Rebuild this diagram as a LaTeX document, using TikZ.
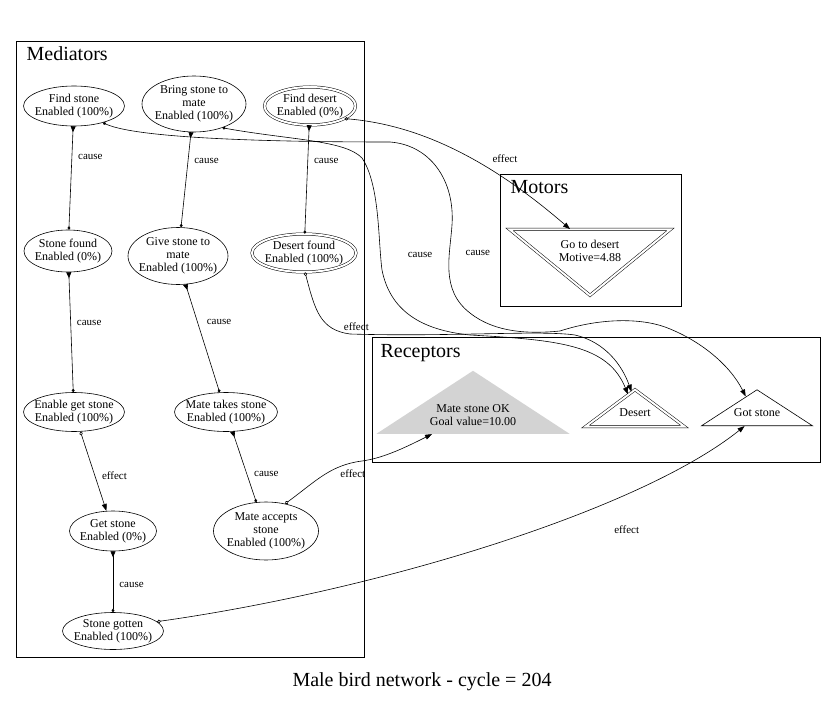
\documentclass[tikz,border=0pt]{standalone}
\usepackage{fontspec}
\setmainfont{Liberation Serif}
\usetikzlibrary{shapes.geometric,arrows.meta,calc}
\definecolor{goalgray}{RGB}{211,211,211}

\begin{document}
\begin{tikzpicture}[x=1pt,y=-1pt,line width=0.6pt,
      every node/.style={align=center,font=\fontsize{12}{13}\selectfont},
      med/.style={draw,ellipse,inner sep=-15pt,minimum width=100pt,minimum height=40pt},
      dbl/.style={double,double distance=2pt,line width=0.5pt},
      recep/.style={isosceles triangle,isosceles triangle stretches,
        shape border rotate=90,inner sep=0pt},
      grplabel/.style={anchor=base west,font=\fontsize{20}{24}\selectfont},
      lbl/.style={font=\fontsize{11}{13}\selectfont,inner sep=1pt},
      cause/.style={{Triangle[reversed,length=6pt,width=5pt]}-{Diamond[length=3.5pt,width=3pt]}},
      rcause/.style={{Diamond[length=3.5pt,width=3pt]}-{Triangle[length=7pt,width=5pt]}},
      effect/.style={{Diamond[open,length=4pt,width=3.5pt]}-{Triangle[length=7pt,width=5pt]}}]
  \useasboundingbox (0,0) rectangle (833,701);

  % groups
  \draw (16,41) rectangle (364,657);
  \draw (500,174) rectangle (681,306);
  \draw (372,337) rectangle (820,462);
  \node[grplabel] (medlabel) at (23,60) {Mediators};
  \node[grplabel] (motlabel) at (507,193) {Motors};
  \node[grplabel] (reclabel) at (377,357) {Receptors};

  % mediators
  \node[med,minimum width=101pt,minimum height=40pt] (findstone) at (74,106) {Find stone\\Enabled (100\%)};
  \node[med,minimum width=104pt,minimum height=56pt] (bringstone) at (194,104) {Bring stone to\\mate\\Enabled (100\%)};
  \node[med,dbl,minimum width=91pt,minimum height=38pt] (finddesert) at (310,106) {Find desert\\Enabled (0\%)};
  \node[med,minimum width=88pt,minimum height=42pt] (stonefound) at (68,251) {Stone found\\Enabled (0\%)};
  \node[med,minimum width=100pt,minimum height=57pt] (givestone) at (178,256) {Give stone to\\mate\\Enabled (100\%)};
  \node[med,dbl,minimum width=104pt,minimum height=38pt] (desertfound) at (304,253) {Desert found\\Enabled (100\%)};
  \node[med,minimum width=101pt,minimum height=39pt] (enablegetstone) at (74,412) {Enable get stone\\Enabled (100\%)};
  \node[med,minimum width=103pt,minimum height=39pt] (matetakes) at (226,412) {Mate takes stone\\Enabled (100\%)};
  \node[med,minimum width=87pt,minimum height=40pt] (getstone) at (113,531) {Get stone\\Enabled (0\%)};
  \node[med,minimum width=105pt,minimum height=58pt] (mateaccepts) at (266,531) {Mate accepts\\stone\\Enabled (100\%)};
  \node[med,minimum width=101pt,minimum height=37pt] (stonegotten) at (113,631) {Stone gotten\\Enabled (100\%)};

  % motors and receptors
  \node[recep,dbl,draw,shape border rotate=270,minimum width=161pt,minimum height=66pt,anchor=apex] (gotodesert) at (590,296) {};
  \node (gotodeserttext) at ($(gotodesert.apex)!0.67!(gotodesert.lower side)$) {Go to desert\\Motive=4.88};
  \node[recep,fill=goalgray,minimum width=193pt,minimum height=63pt,anchor=apex] (mateok) at (473,370) {};
  \node (mateoktext) at ($(mateok.apex)!0.7!(mateok.lower side)$) {Mate stone OK\\Goal value=10.00};
  \node[recep,dbl,draw,minimum width=99pt,minimum height=37pt,anchor=apex] (desert) at (635,389) {};
  \node (deserttext) at ($(desert.apex)!0.62!(desert.lower side)$) {Desert};
  \node[recep,draw,minimum width=111pt,minimum height=36pt,anchor=apex] (gotstone) at (757,389) {};
  \node (gotstonetext) at ($(gotstone.apex)!0.64!(gotstone.lower side)$) {Got stone};

  % cause links between mediators
  \draw[cause] (findstone) -- node[lbl,pos=0.3,right=5pt] {cause} (stonefound);
  \draw[cause] (bringstone) -- node[lbl,pos=0.3,right=5pt] {cause} (givestone);
  \draw[cause] (finddesert) -- node[lbl,pos=0.33,right=5pt] {cause} (desertfound);
  \draw[cause] (stonefound) -- node[lbl,pos=0.42,right=5pt] {cause} (enablegetstone);
  \draw[cause] (givestone.-75) -- node[lbl,pos=0.35,right=8pt] {cause} (matetakes.108);
  \draw[cause] (matetakes) -- node[lbl,pos=0.6,right=6pt] {cause} (mateaccepts);
  \draw[cause] (getstone) -- node[lbl,pos=0.55,right=5pt] {cause} (stonegotten);
  \draw[effect] (enablegetstone) -- node[lbl,pos=0.55,right=6pt] {effect} (getstone);

  % links to receptors and motors
  \draw[rcause] (findstone.-30) .. controls (140,140) and (300,142) .. (390,142)
    .. controls (430,145) and (455,180) .. (452,225)
    .. controls (450,255) and (440,290) .. node[lbl,pos=0.3,right=15pt] {cause} (470,313)
    .. controls (495,333) and (530,334) .. (560,331)
    .. controls (600,318) and (640,318) .. (665,327)
    .. controls (700,340) and (730,365) .. ($(gotstone.apex)!0.2!(gotstone.left corner)$);
  \draw[rcause] (bringstone.-40) .. controls (290,140) and (345,140) .. (362,158)
    .. controls (380,185) and (378,240) .. node[lbl,pos=0.85,right=26pt] {cause} (382,270)
    .. controls (390,310) and (420,330) .. (470,335)
    .. controls (560,340) and (608,345) .. ($(desert.apex)!0.14!(desert.left corner)$);
  \draw[effect] (desertfound.-87) .. controls (315,310) and (320,330) .. node[lbl,pos=0.95,above right=1pt,xshift=-4pt] {effect} (350,334)
    .. controls (450,337) and (540,330) .. (575,335)
    .. controls (605,342) and (622,365) .. ($(desert.apex)!0.07!(desert.left corner)$);
  \draw[effect] (finddesert.-20) .. controls (420,125) and (490,160) .. node[lbl,pos=0.66,above right=0pt,yshift=6pt] {effect} ($(gotodesert.lower side)+(-20,0)$);
  \draw[effect] (mateaccepts.55) .. controls (315,482) and (330,465) .. node[lbl,pos=0.9,below=6pt] {effect} (362,461)
    .. controls (385,458) and (410,445) .. ($(mateok.left corner)!0.29!(mateok.right corner)$);
  \draw[effect] (stonegotten.12) .. controls (380,590) and (640,510) .. node[lbl,pos=0.68,below=20pt,xshift=24pt] {effect} ($(gotstone.left corner)!0.39!(gotstone.right corner)$);

  % caption
  \node[font=\fontsize{20}{24}\selectfont,anchor=base] (caption) at (422,686) {Male bird network - cycle = 204};
\end{tikzpicture}
\end{document}
